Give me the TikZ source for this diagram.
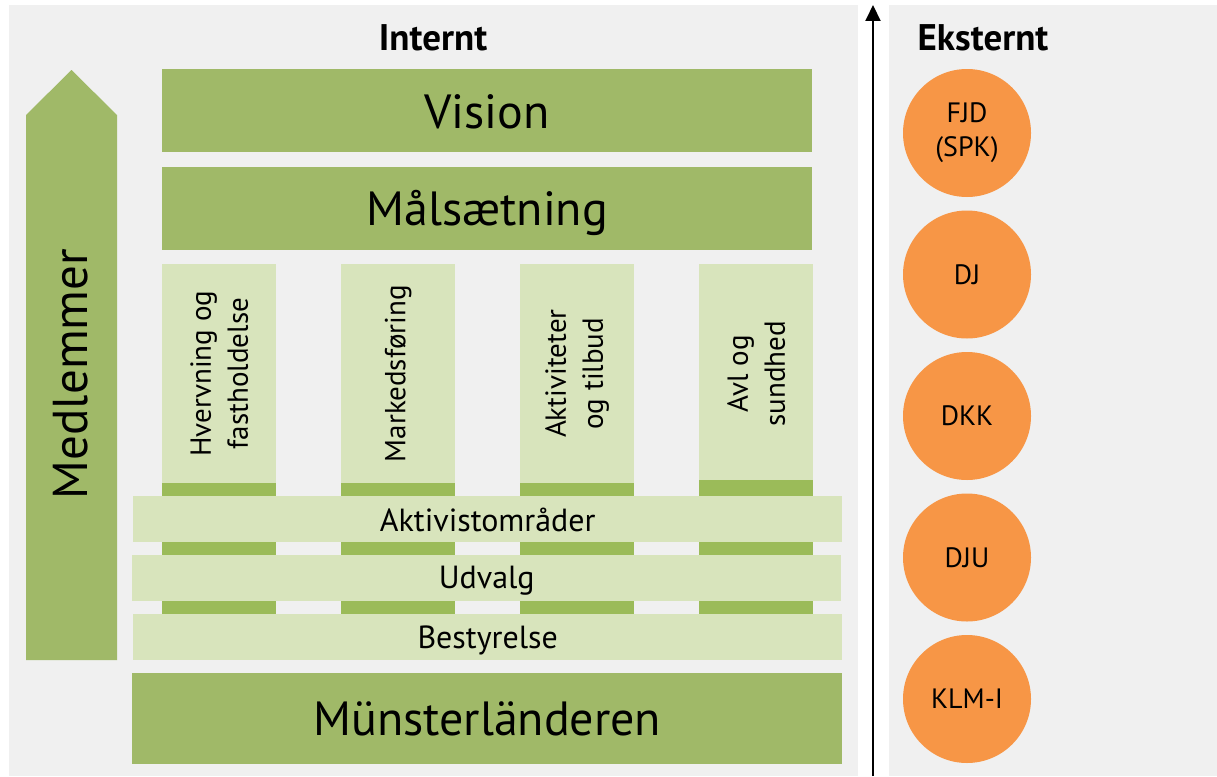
\documentclass[tikz,border=0pt]{standalone}
\usepackage{fontspec}
\setmainfont{PT Sans}
\usetikzlibrary{arrows.meta}
\definecolor{bggray}{RGB}{240,240,240}
\definecolor{mgreen}{RGB}{160,185,104}
\definecolor{sgreen}{RGB}{155,187,89}
\definecolor{lgreen}{RGB}{216,228,188}
\definecolor{orng}{RGB}{247,150,70}
\begin{document}
\begin{tikzpicture}[x=1pt,y=-1pt,
  bigbox/.style={fill=mgreen, inner sep=0pt, anchor=north west},
  bigtext/.style={inner sep=0pt, font=\fontsize{48}{52}\selectfont},
  band/.style={fill=lgreen, inner sep=0pt, anchor=north west, minimum width=709pt, minimum height=46pt},
  bandtext/.style={inner sep=0pt, font=\fontsize{32}{36}\selectfont},
  pillardark/.style={fill=sgreen, inner sep=0pt, anchor=north west, minimum width=114pt, minimum height=396pt},
  pillarlight/.style={fill=lgreen, inner sep=0pt, anchor=north west, minimum width=114pt},
  pillartext/.style={rotate=90, align=center, inner sep=0pt, font=\fontsize{29}{37}\selectfont},
  title/.style={font=\fontsize{37}{40}\selectfont\bfseries, inner sep=0pt},
  ext/.style={circle, fill=orng, minimum size=128pt, inner sep=0pt, align=center, font=\fontsize{28}{34}\selectfont}
]
\useasboundingbox (0,0) rectangle (1217,776);
\fill[white] (0,0) rectangle (1217,776);
% panels
\fill[bggray] (9,5) rectangle (858,776);
\fill[bggray] (889,5) rectangle (1217,776);
% axis arrow
\coordinate (axb) at (873,776);
\coordinate (axt) at (873,5);
\draw[line width=2pt, -{Triangle[width=15pt,length=16pt]}] (axb) -- (axt);
% titles
\node[title] (internt) at (433,38) {Internt};
\node[title] (eksternt) at (983,38) {Eksternt};
% Medlemmer arrow
\fill[mgreen] (26,660) -- (26,115) -- (71.5,70) -- (117,115) -- (117,660) -- cycle;
\node[rotate=90, inner sep=0pt, font=\fontsize{49}{52}\selectfont] (medlemmer) at (71,374) {Medlemmer};
% top boxes
\node[bigbox, minimum width=650pt, minimum height=83pt] (vision) at (162,69) {};
\node[bigtext] (visiont) at ([yshift=-1pt]vision.center) {Vision};
\node[bigbox, minimum width=650pt, minimum height=83pt] (maal) at (162,167) {};
\node[bigtext] (maalt) at ([yshift=-4pt]maal.center) {Målsætning};
% pillars
\foreach \x/\n in {162/p1,341/p2,520/p3,699/p4}{
  \node[pillardark] (\n d) at (\x,264) {};
}
\node[pillarlight, minimum height=219pt] (p1) at (162,264) {};
\node[pillarlight, minimum height=219pt] (p2) at (341,264) {};
\node[pillarlight, minimum height=219pt] (p3) at (520,264) {};
\node[pillarlight, minimum height=216pt] (p4) at (699,264) {};
\node[pillartext] (t1) at (p1.center) {Hvervning og\\fastholdelse};
\node[pillartext] (t2) at (p2.center) {Markedsføring};
\node[pillartext] (t3) at (p3.center) {Aktiviteter\\og tilbud};
\node[pillartext] (t4) at ([yshift=-1.5pt]p4.center) {Avl og\\sundhed};
% bands
\node[band] (akt) at (133,496) {};
\node[bandtext] (aktt) at ([yshift=-1pt]akt.center) {Aktivistområder};
\node[band] (udv) at (132,555) {};
\node[bandtext] (udvt) at ([yshift=-2pt]udv.center) {Udvalg};
\node[band] (best) at (133,614) {};
\node[bandtext] (bestt) at ([yshift=-3pt]best.center) {Bestyrelse};
\node[bigbox, minimum width=710pt, minimum height=91pt] (muen) at (132,673) {};
\node[bigtext] (muent) at (muen.center) {Münsterländeren};
% external circles
\node[ext] (fjd) at (967,133) {FJD\\(SPK)};
\node[ext] (dj) at (967,274.5) {DJ};
\node[ext] (dkk) at (967,416) {DKK};
\node[ext] (dju) at (967,557.5) {DJU};
\node[ext] (klm) at (967,699) {KLM-I};
\end{tikzpicture}
\end{document}
